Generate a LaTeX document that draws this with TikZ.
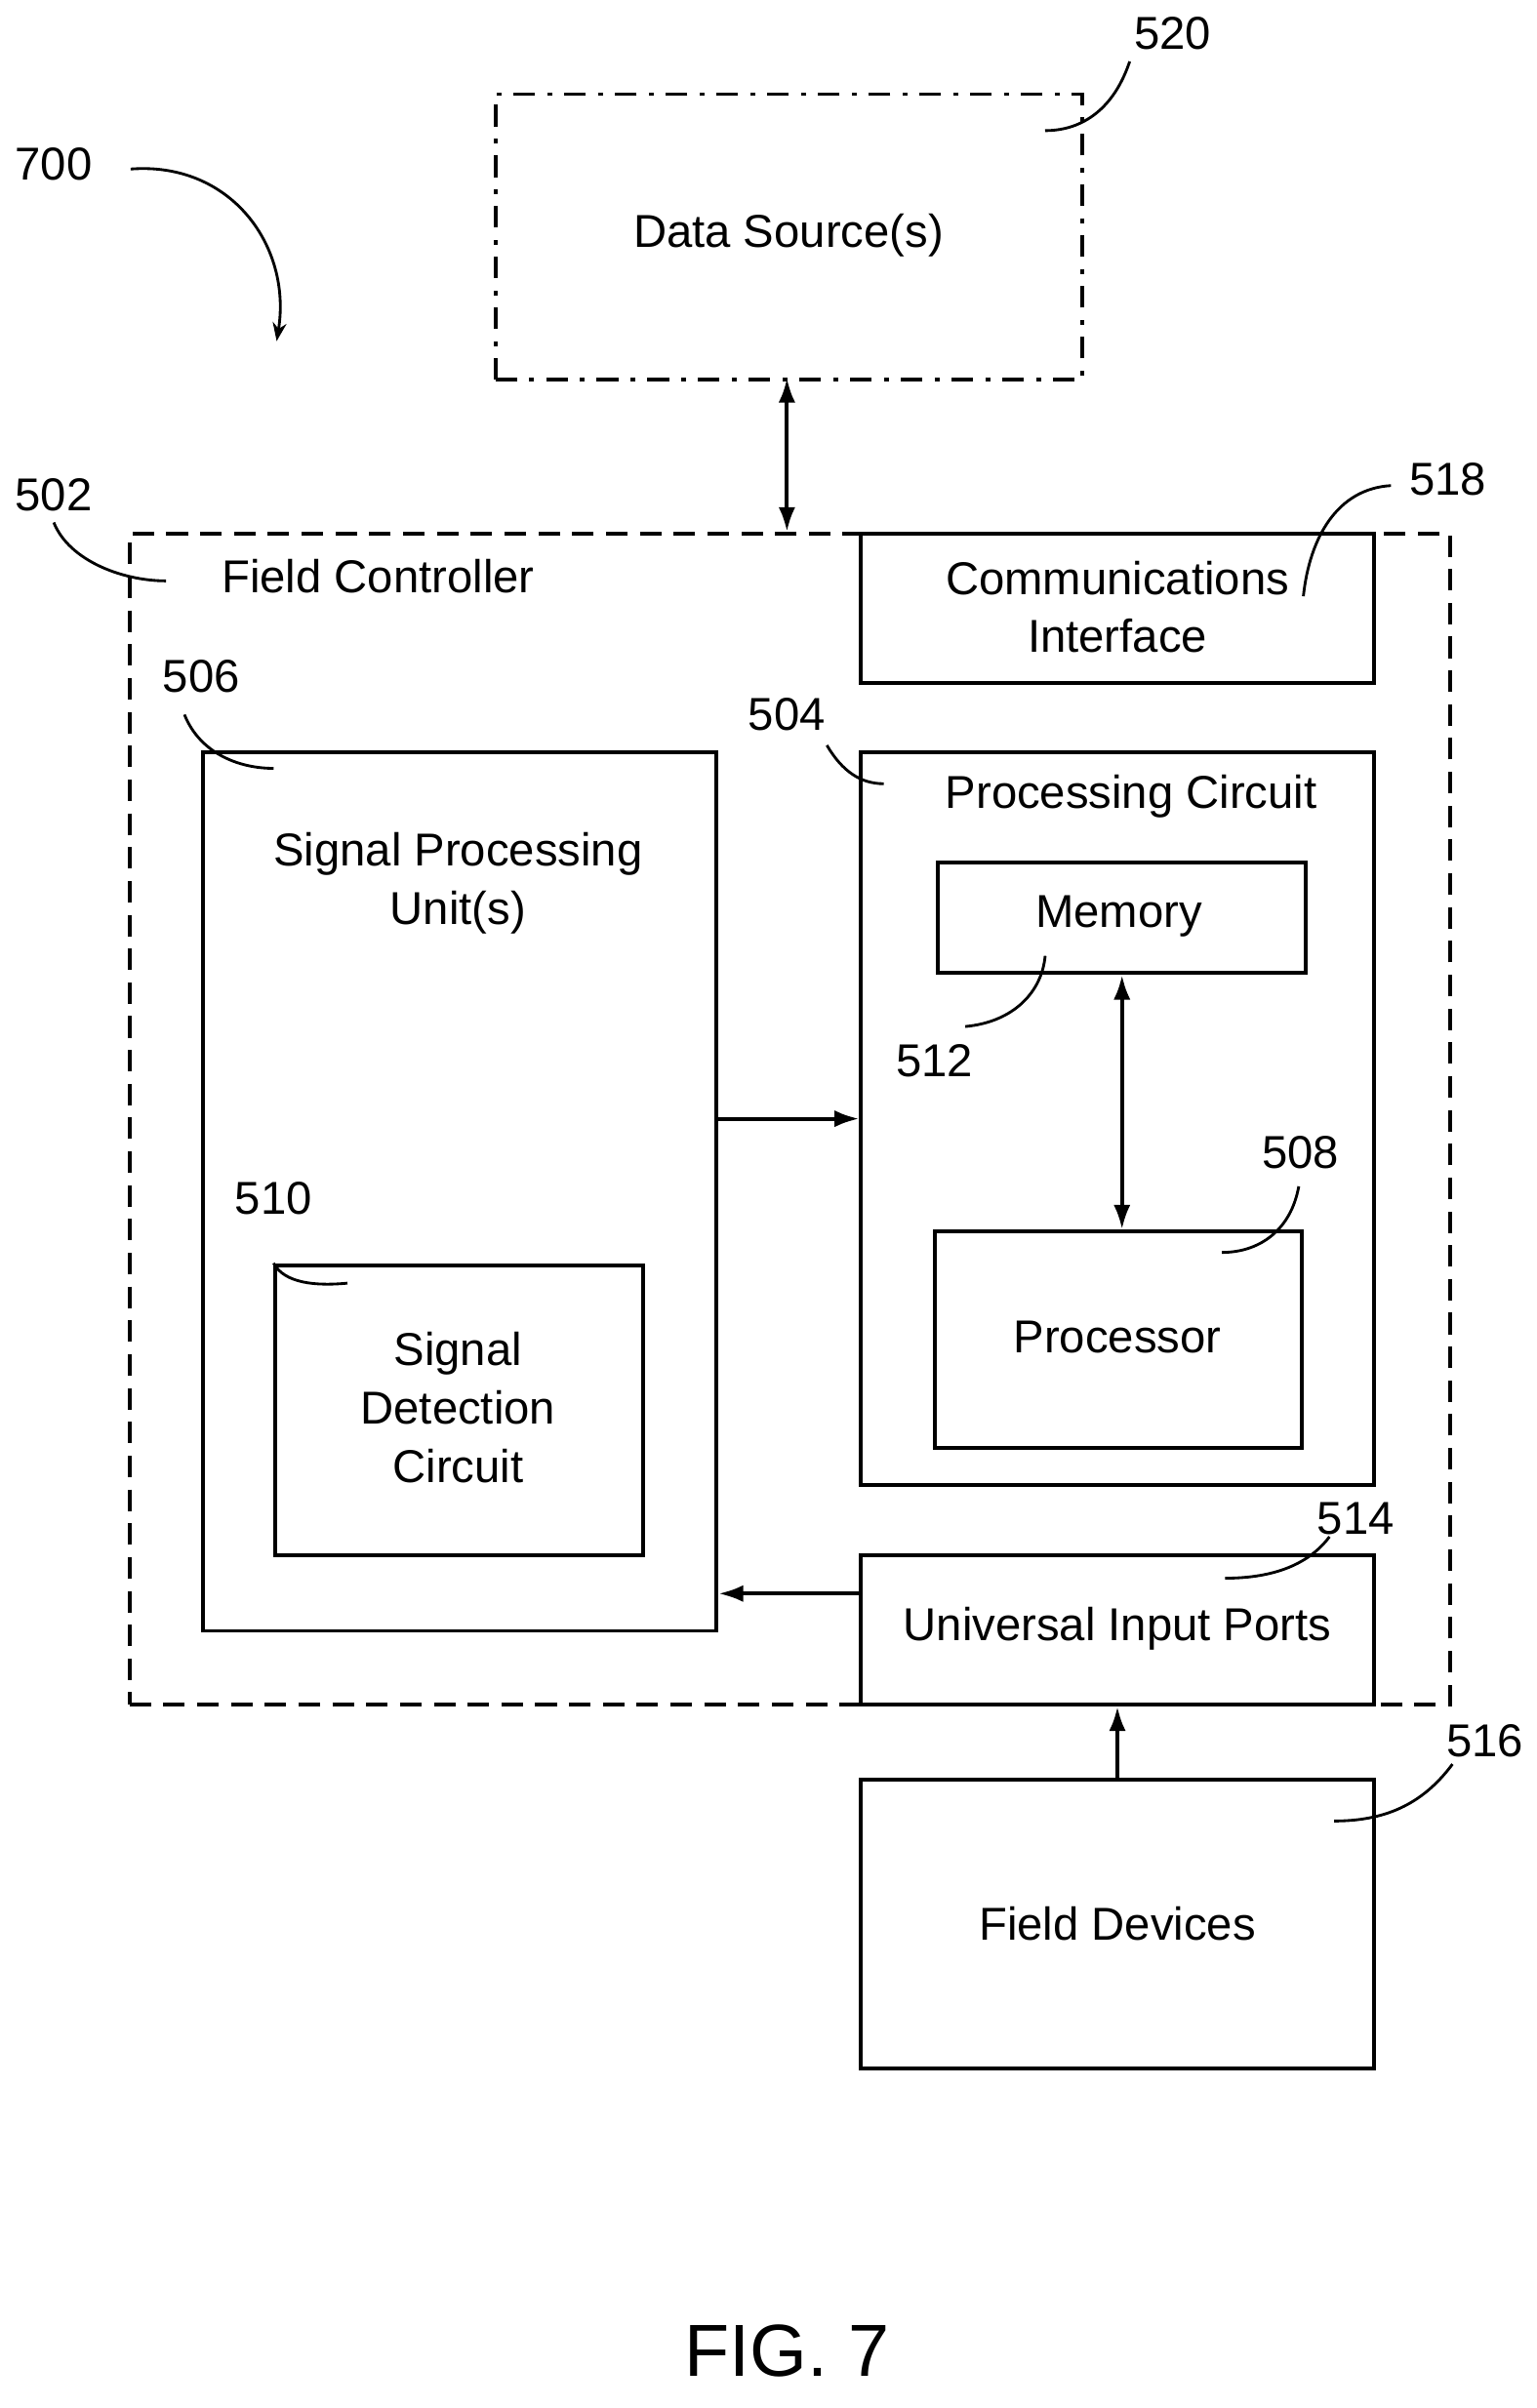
\documentclass[tikz,border=0pt]{standalone}
\usepackage{fontspec}
\setmainfont{Liberation Sans}
\usetikzlibrary{arrows.meta}
\begin{document}
\begin{tikzpicture}[x=1pt, y=-1pt,
            every node/.style={font=\fontsize{30}{38}\selectfont},
            box/.style={draw, line width=2.5pt, anchor=north west, inner sep=0pt, align=center},
            lbl/.style={inner sep=1pt},
            lead/.style={line width=1.8pt},
            arr/.style={line width=2.5pt, -{Latex[length=16pt, width=11pt]}},
            darr/.style={line width=2.5pt, {Latex[length=16pt, width=11pt]}-{Latex[length=16pt, width=11pt]}}
        ]
        \useasboundingbox (0,0) rectangle (1000,1567);

        % Outer boxes
        \node[box, dash pattern=on 14pt off 8pt on 3pt off 8pt, minimum width=382pt, minimum height=186pt] (src) at (321,60) {};
        \node at (513,153) {Data Source(s)};
        \node[box, dash pattern=on 14pt off 8pt, minimum width=859pt, minimum height=762pt] (fc) at (83,346) {};
        \node[lbl] (fct) at (246,375) {Field Controller};

        % Inner boxes
        \node[box, minimum width=334pt, minimum height=97pt] (comm) at (559,346) {};
        \node[align=center] at (727,395) {Communications\\Interface};
        \node[box, minimum width=334pt, minimum height=572pt] (spu) at (131,488) {};
        \node[align=center] at (298,575) {Signal Processing\\Unit(s)};
        \node[box, minimum width=239pt, minimum height=189pt] (sdc) at (178,822) {};
        \node[align=center] at (298,916) {Signal\\Detection\\Circuit};
        \node[box, minimum width=334pt, minimum height=477pt] (pc) at (559,488) {};
        \node at (736,518) {Processing Circuit};
        \node[box, minimum width=239pt, minimum height=72pt] (mem) at (609,560) {};
        \node at (728,596) {Memory};
        \node[box, minimum width=239pt, minimum height=141pt] (proc) at (607,800) {};
        \node at (727,870) {Processor};
        \node[box, minimum width=334pt, minimum height=97pt] (uip) at (559,1011) {};
        \node at (727,1060) {Universal Input Ports};
        \node[box, minimum width=334pt, minimum height=188pt] (fd) at (559,1157) {};
        \node at (727,1252) {Field Devices};

        % Connectors
        \coordinate (srcb) at (512,246);
        \coordinate (fct1) at (512,346);
        \draw[darr] (srcb) -- (fct1);
        \draw[arr] (spu.east |- 0,728) -- (pc.west |- 0,728);
        \draw[arr] (uip.west |- 0,1037) -- (spu.east |- 0,1037);
        \draw[darr] (mem.south -| 730,0) -- (proc.north -| 730,0);
        \draw[arr] (fd.north -| 727,0) -- (uip.south -| 727,0);

        % Reference numerals
        \node[lbl] (n700) at (35,107) {700};
        \draw[lead, -{Stealth[length=12pt]}] (85,110) .. controls (150,105) and (190,160) .. (180,222);
        \node[lbl] (n520) at (763,22) {520};
        \draw[lead] (735,40) .. controls (725,70) and (705,85) .. (680,85);
        \node[lbl] (n502) at (35,322) {502};
        \draw[lead] (35,340) .. controls (45,365) and (80,378) .. (108,378);
        \node[lbl] (n518) at (942,312) {518};
        \draw[lead] (905,316) .. controls (870,318) and (852,350) .. (848,388);
        \node[lbl] (n506) at (131,440) {506};
        \draw[lead] (120,465) .. controls (130,490) and (155,500) .. (178,500);
        \node[lbl] (n504) at (512,465) {504};
        \draw[lead] (538,485) .. controls (548,502) and (560,510) .. (575,510);
        \node[lbl] (n512) at (608,690) {512};
        \draw[lead] (628,668) .. controls (660,665) and (678,645) .. (680,622);
        \node[lbl] (n508) at (846,750) {508};
        \draw[lead] (845,772) .. controls (840,800) and (820,815) .. (795,815);
        \node[lbl] (n510) at (178,780) {510};
        \draw[lead] (178,822) .. controls (185,835) and (205,837) .. (226,835);
        \node[lbl] (n514) at (882,988) {514};
        \draw[lead] (865,1000) .. controls (850,1020) and (825,1027) .. (797,1027);
        \node[lbl] (n516) at (966,1133) {516};
        \draw[lead] (945,1148) .. controls (925,1175) and (900,1185) .. (868,1185);

        \node[font=\fontsize{48}{54}\selectfont] (fig) at (512,1530) {FIG. 7};
\end{tikzpicture}
\end{document}
